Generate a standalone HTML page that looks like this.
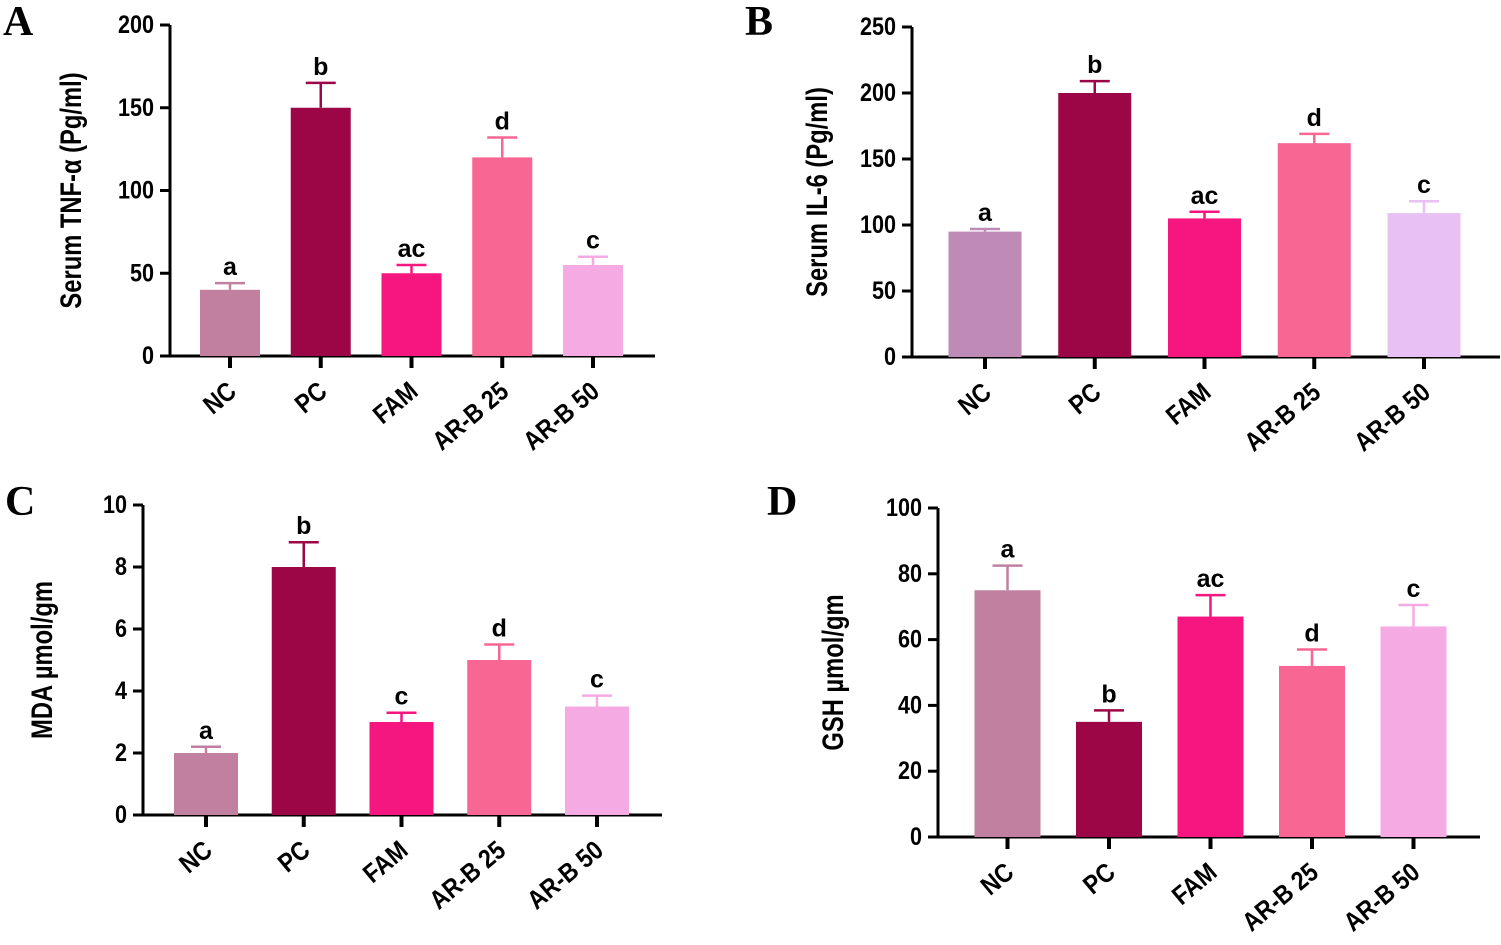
<!DOCTYPE html>
<html><head><meta charset="utf-8"><style>
body{margin:0;background:#fff}
svg{display:block;font-family:"Liberation Sans",Arial,sans-serif}
</style></head><body>
<svg id="c" width="1501" height="945" viewBox="0 0 1501 945"></svg>
<script>
const categories=["NC","PC","FAM","AR-B 25","AR-B 50"];
const valuesA=[40,150,50,120,55];
const errA=[4,15,5,12,5];
const lettersA=["a","b","ac","d","c"];
const ticksA=[0,50,100,150,200];
const valuesB=[95,200,105,162,109];
const errB=[2,9,5,7,9];
const lettersB=["a","b","ac","d","c"];
const ticksB=[0,50,100,150,200,250];
const valuesC=[2,8,3,5,3.5];
const errC=[0.2,0.8,0.3,0.5,0.35];
const lettersC=["a","b","c","d","c"];
const ticksC=[0,2,4,6,8,10];
const valuesD=[75,35,67,52,64];
const errD=[7.5,3.5,6.5,5,6.5];
const lettersD=["a","b","ac","d","c"];
const ticksD=[0,20,40,60,80,100];
const colorsStd=["#c1809f","#9c0646","#f5177f","#f86693","#f5aae4"];
const colorsB=["#be8ab6","#9c0646","#f5177f","#f86693","#e8c0f4"];
const NS="http://www.w3.org/2000/svg";
const svg=document.getElementById('c');
function mk(tag,attrs,parent,text){const e=document.createElementNS(NS,tag);for(const k in attrs)e.setAttribute(k,attrs[k]);if(text!==undefined)e.textContent=text;(parent||svg).appendChild(e);return e;}
function panel(p){
  const g=mk('g',{});
  
  
  const max=p.ticks[p.ticks.length-1];
  const y=v=>p.y0-(v/max)*(p.y0-p.yTop);
  const x=i=>p.x1+p.step*i;
  const ya=mk('line',{x1:p.ax,y1:p.yTop,x2:p.ax,y2:p.y0,stroke:'#000','stroke-width':3},g);
  
  
  p.ticks.forEach(t=>{
    mk('line',{x1:p.ax-10,y1:y(t),x2:p.ax,y2:y(t),stroke:'#000','stroke-width':3},g);
    const tl=mk('text',{x:0,y:0,'text-anchor':'end','font-size':24,'font-weight':'bold',transform:`translate(${p.ax-16},${y(t)+8}) scale(0.9,1.05)`},g,t);
    
    
  });
  const xa=mk('line',{x1:p.ax,y1:p.y0,x2:p.axEnd,y2:p.y0,stroke:'#000','stroke-width':3},g);
  
  
  p.vals.forEach((v,i)=>{
    const cx=x(i),c=p.colors[i];
    const b=mk('rect',{x:cx-p.bw/2,y:y(v),width:p.bw,height:p.y0-y(v),fill:c},g);
    
    
    const ye=y(v+p.err[i]);
    mk('line',{x1:cx,y1:y(v),x2:cx,y2:ye,stroke:c,'stroke-width':2.5},g);
    mk('line',{x1:cx-15,y1:ye,x2:cx+15,y2:ye,stroke:c,'stroke-width':2.5},g);
    const lt=mk('text',{x:0,y:0,'text-anchor':'middle','font-size':25,'font-weight':'bold',transform:`translate(${cx},${ye-8}) scale(1,1)`},g,p.letters[i]);
    
    
    mk('line',{x1:cx,y1:p.y0,x2:cx,y2:p.y0+12,stroke:'#000','stroke-width':4},g);
    const xl=mk('text',{x:0,y:0,'text-anchor':'end','font-size':25,'font-weight':'bold',transform:`translate(${cx+8},${p.y0+38}) rotate(-40) scale(0.92,1.05)`},g,categories[i]);
    
    
  });
  const yt=mk('text',{x:0,y:0,'text-anchor':'middle','font-size':27,'font-weight':'bold',transform:`translate(${p.titleX},${(p.yTop+p.y0)/2}) rotate(-90) scale(0.88,1.1)`},g,p.title);
  
  
  const pl=mk('text',{x:p.lx,y:p.ly,'font-size':42,'font-weight':'bold','font-family':'"Liberation Serif",serif'},g,p.id);
  
  
}
panel({id:'A',vals:valuesA,err:errA,letters:lettersA,ticks:ticksA,colors:colorsStd,ax:170,axEnd:655,yTop:25,y0:356,x1:230,step:90.75,bw:60,title:'Serum TNF-α  (Pg/ml)',titleX:81,lx:3,ly:35});
panel({id:'B',vals:valuesB,err:errB,letters:lettersB,ticks:ticksB,colors:colorsB,ax:912,axEnd:1500,yTop:27,y0:357,x1:985,step:109.75,bw:73,title:'Serum IL-6  (Pg/ml)',titleX:827,lx:745,ly:35});
panel({id:'C',vals:valuesC,err:errC,letters:lettersC,ticks:ticksC,colors:colorsStd,ax:143,axEnd:662,yTop:505,y0:815,x1:206,step:97.75,bw:64,title:'MDA  µmol/gm',titleX:52,lx:5,ly:515});
panel({id:'D',vals:valuesD,err:errD,letters:lettersD,ticks:ticksD,colors:colorsStd,ax:938,axEnd:1480,yTop:508,y0:837,x1:1007.5,step:101.5,bw:66,title:'GSH µmol/gm',titleX:843,lx:767,ly:515});
</script>
</body></html>
